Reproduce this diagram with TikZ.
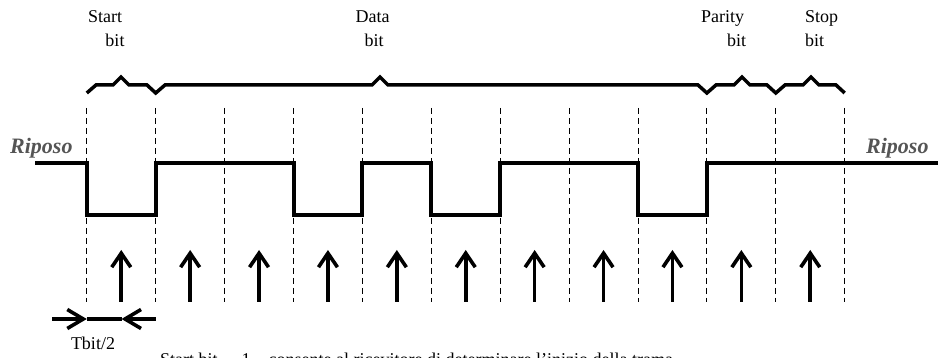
\documentclass[tikz,border=0pt]{standalone}
\usepackage{fontspec}
\setmainfont{Liberation Serif}
\usetikzlibrary{arrows.meta}
\definecolor{riposogray}{HTML}{555555}
\tikzset{
  sigline/.style={line width=4pt, line join=miter},
  braceline/.style={line width=3.5pt, line join=miter},
  gridline/.style={line width=1pt, dash pattern=on 6pt off 4pt},
  samplearrow/.style={line width=3.6pt, -{Straight Barb[length=14pt,width=19pt]}},
  halfarrow/.style={line width=3.6pt, -{Straight Barb[length=16pt,width=19pt]}},
  lbl/.style={font=\fontsize{18}{22}\selectfont, inner sep=0pt, anchor=base},
  riposo/.style={font=\fontsize{22}{26}\selectfont\bfseries\itshape, text=riposogray, inner sep=0pt, anchor=base west},
}
\begin{document}
\begin{tikzpicture}[x=1pt,y=-1pt]
\useasboundingbox (0,0) rectangle (938,358);
% grid positions
\foreach \i in {0,...,11} {
  \pgfmathsetmacro{\xx}{86.8+68.9*\i}
  \coordinate (g\i top) at (\xx,108);
  \coordinate (g\i bot) at (\xx,302);
  \draw[gridline] (g\i top) -- (g\i bot);
}
% sampling arrows
\foreach \i in {0,...,10} {
  \pgfmathsetmacro{\xx}{86.8+68.9*\i+34.45}
  \coordinate (s\i bot) at (\xx,302);
  \coordinate (s\i tip) at (\xx,250);
  \draw[samplearrow] (s\i bot) -- (s\i tip);
}
% signal
\coordinate (sigstart) at (35,163);
\coordinate (sigend) at (938,163);
\def\hi{163}\def\lo{215.5}
\draw[sigline] (sigstart) -- (86.8,\hi) -- (86.8,\lo) -- (155.7,\lo) -- (155.7,\hi)
  -- (293.5,\hi) -- (293.5,\lo) -- (362.4,\lo) -- (362.4,\hi)
  -- (431.3,\hi) -- (431.3,\lo) -- (500.2,\lo) -- (500.2,\hi)
  -- (638,\hi) -- (638,\lo) -- (706.9,\lo) -- (706.9,\hi) -- (sigend);
% braces
\draw[braceline] (86.8,93) -- (96,85) -- (113,85) -- (121,77) -- (129,85) -- (147,85)
  -- (155.7,93) -- (165,85) -- (372,85) -- (380,77) -- (388,85) -- (698,85)
  -- (706.9,93) -- (716,85) -- (734,85) -- (742,77) -- (750,85) -- (767,85)
  -- (775.8,93) -- (785,85) -- (803,85) -- (811,77) -- (819,85) -- (836,85)
  -- (844.7,93);
% labels
\node[lbl] (startl) at (105,22.7) {Start};
\node[lbl] (startb) at (115,46.7) {bit};
\node[lbl] (datal) at (372.5,22.7) {Data};
\node[lbl] (datab) at (374,46.7) {bit};
\node[lbl] (parl) at (722.5,22.7) {Parity};
\node[lbl] (parb) at (736.7,46.7) {bit};
\node[lbl] (stopl) at (821.5,22.7) {Stop};
\node[lbl] (stopb) at (814.5,46.7) {bit};
\node[riposo] (ripl) at (10,154) {Riposo};
\node[riposo] (ripr) at (866,154) {Riposo};
% Tbit/2
\coordinate (hA) at (52,319);
\coordinate (hB) at (86.8,319);
\coordinate (hC) at (121.5,319);
\coordinate (hD) at (155.7,319);
\draw[line width=3.6pt] (hB) -- (hC);
\draw[halfarrow] (hA) -- (hB);
\draw[halfarrow] (hD) -- (hC);
\node[lbl] (tbit) at (93,350) {Tbit/2};
% bottom text (cut by the frame, as in the reference)
\begin{scope}
\clip (0,0) rectangle (938,358);
\node[lbl, anchor=base west] (note) at (160,366) {Start bit \,–\, 1 – consente al ricevitore di determinare l’inizio della trama};
\end{scope}
\end{tikzpicture}
\end{document}
